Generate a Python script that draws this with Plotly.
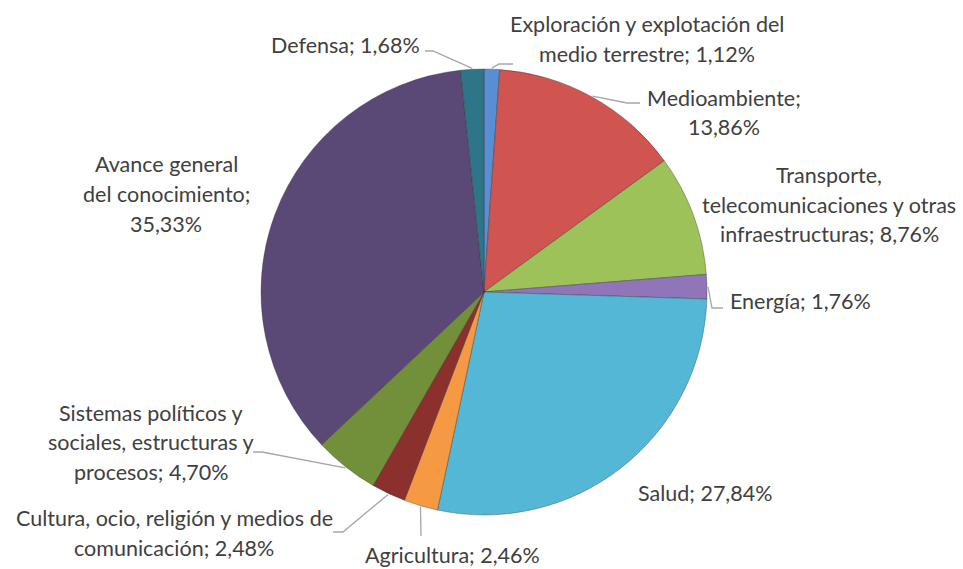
import math
import plotly.graph_objects as go

# ── data ────────────────────────────────────────────────────────────────
categories = [
    "Exploración y explotación del medio terrestre",
    "Medioambiente",
    "Transporte, telecomunicaciones y otras infraestructuras",
    "Energía",
    "Salud",
    "Agricultura",
    "Cultura, ocio, religión y medios de comunicación",
    "Sistemas políticos y sociales, estructuras y procesos",
    "Avance general del conocimiento",
    "Defensa",
]
values = [1.12, 13.86, 8.76, 1.76, 27.84, 2.46, 2.48, 4.70, 35.33, 1.68]

# label text as drawn (line breaks), value goes into {}
label_fmt = [
    "Exploración y explotación del\nmedio terrestre; {}",
    "Medioambiente;\n{}",
    "Transporte,\ntelecomunicaciones y otras\ninfraestructuras; {}",
    "Energía; {}",
    "Salud; {}",
    "Agricultura; {}",
    "Cultura, ocio, religión y medios de\ncomunicación; {}",
    "Sistemas políticos y\nsociales, estructuras y\nprocesos; {}",
    "Avance general\ndel conocimiento;\n{}",
    "Defensa; {}",
]

# ── style / layout ──────────────────────────────────────────────────────
W, H = 963, 569
CX, CY, R = 484, 292, 223
TEXT = "#404040"
LEADER = "#A6A6A6"
FONT = "Lato"
FONT_SIZE = 21.5
LINE_GAP = 29.5

colors = ["#5A8ED3", "#D05450", "#9DC25A", "#9075B8", "#55B7D6",
          "#F59A43", "#8C302D", "#728F3A", "#5A4876", "#2E7587"]

# label block centres (px) and leader-line bends (px), per slice
label_pos = [(647, 39), (724, 112.5), (829, 205), (800, 301), (705, 493),
             (452, 555), (174, 533), (151, 442), (166, 194), (345, 45)]
leader_via = {
    0: [(499, 64), (513, 64)],
    1: [(627, 103), (640, 103)],
    3: [(712, 308), (723, 308)],
    5: [(421, 536)],
    6: [(343, 532), (333, 532)],
    7: [(262, 452), (253, 452)],
    9: [(433, 51), (425, 51)],
}


def px(x, y):
    return x / W, 1 - y / H


fig = go.Figure(go.Pie(
    labels=categories,
    values=values,
    sort=False,
    direction="clockwise",
    rotation=0,
    textinfo="none",
    marker=dict(colors=colors, line=dict(color="rgba(40,40,40,0.35)", width=1)),
    domain=dict(x=[(CX - R) / W, (CX + R) / W],
                y=[1 - (CY + R) / H, 1 - (CY - R) / H]),
    hovertemplate="%{label}: %{value:.2f}%<extra></extra>",
    showlegend=False,
))

total = sum(values)
cum = 0.0
annotations, shapes = [], []
for i, v in enumerate(values):
    mid = (cum + v / 2) / total * 2 * math.pi
    cum += v
    pct = f"{v:.2f}".replace(".", ",") + "%"
    lines = label_fmt[i].format(pct).split("\n")
    lx, ly = label_pos[i]
    top = ly - LINE_GAP * (len(lines) - 1) / 2
    for k, line in enumerate(lines):
        x, y = px(lx, top + k * LINE_GAP)
        annotations.append(dict(
            x=x, y=y, xref="paper", yref="paper", text=line, showarrow=False,
            xanchor="center", yanchor="middle",
            font=dict(family=FONT, size=FONT_SIZE, color=TEXT),
        ))
    if i in leader_via:
        pts = [(CX + (R + 1) * math.sin(mid), CY - (R + 1) * math.cos(mid))]
        pts += leader_via[i]
        path = " ".join(
            ("M" if j == 0 else "L") + " {:.5f} {:.5f}".format(*px(*p))
            for j, p in enumerate(pts)
        )
        shapes.append(dict(type="path", xref="paper", yref="paper", path=path,
                           line=dict(color=LEADER, width=1.3)))

fig.update_layout(
    width=W, height=H,
    margin=dict(l=0, r=0, t=0, b=0),
    paper_bgcolor="white",
    plot_bgcolor="white",
    annotations=annotations,
    shapes=shapes,
)

# drop the browser's default 8px body margin so the figure sits at 0,0
fig.write_html("out.html", config={"displayModeBar": False},
               post_script="document.body.style.margin='0';")
